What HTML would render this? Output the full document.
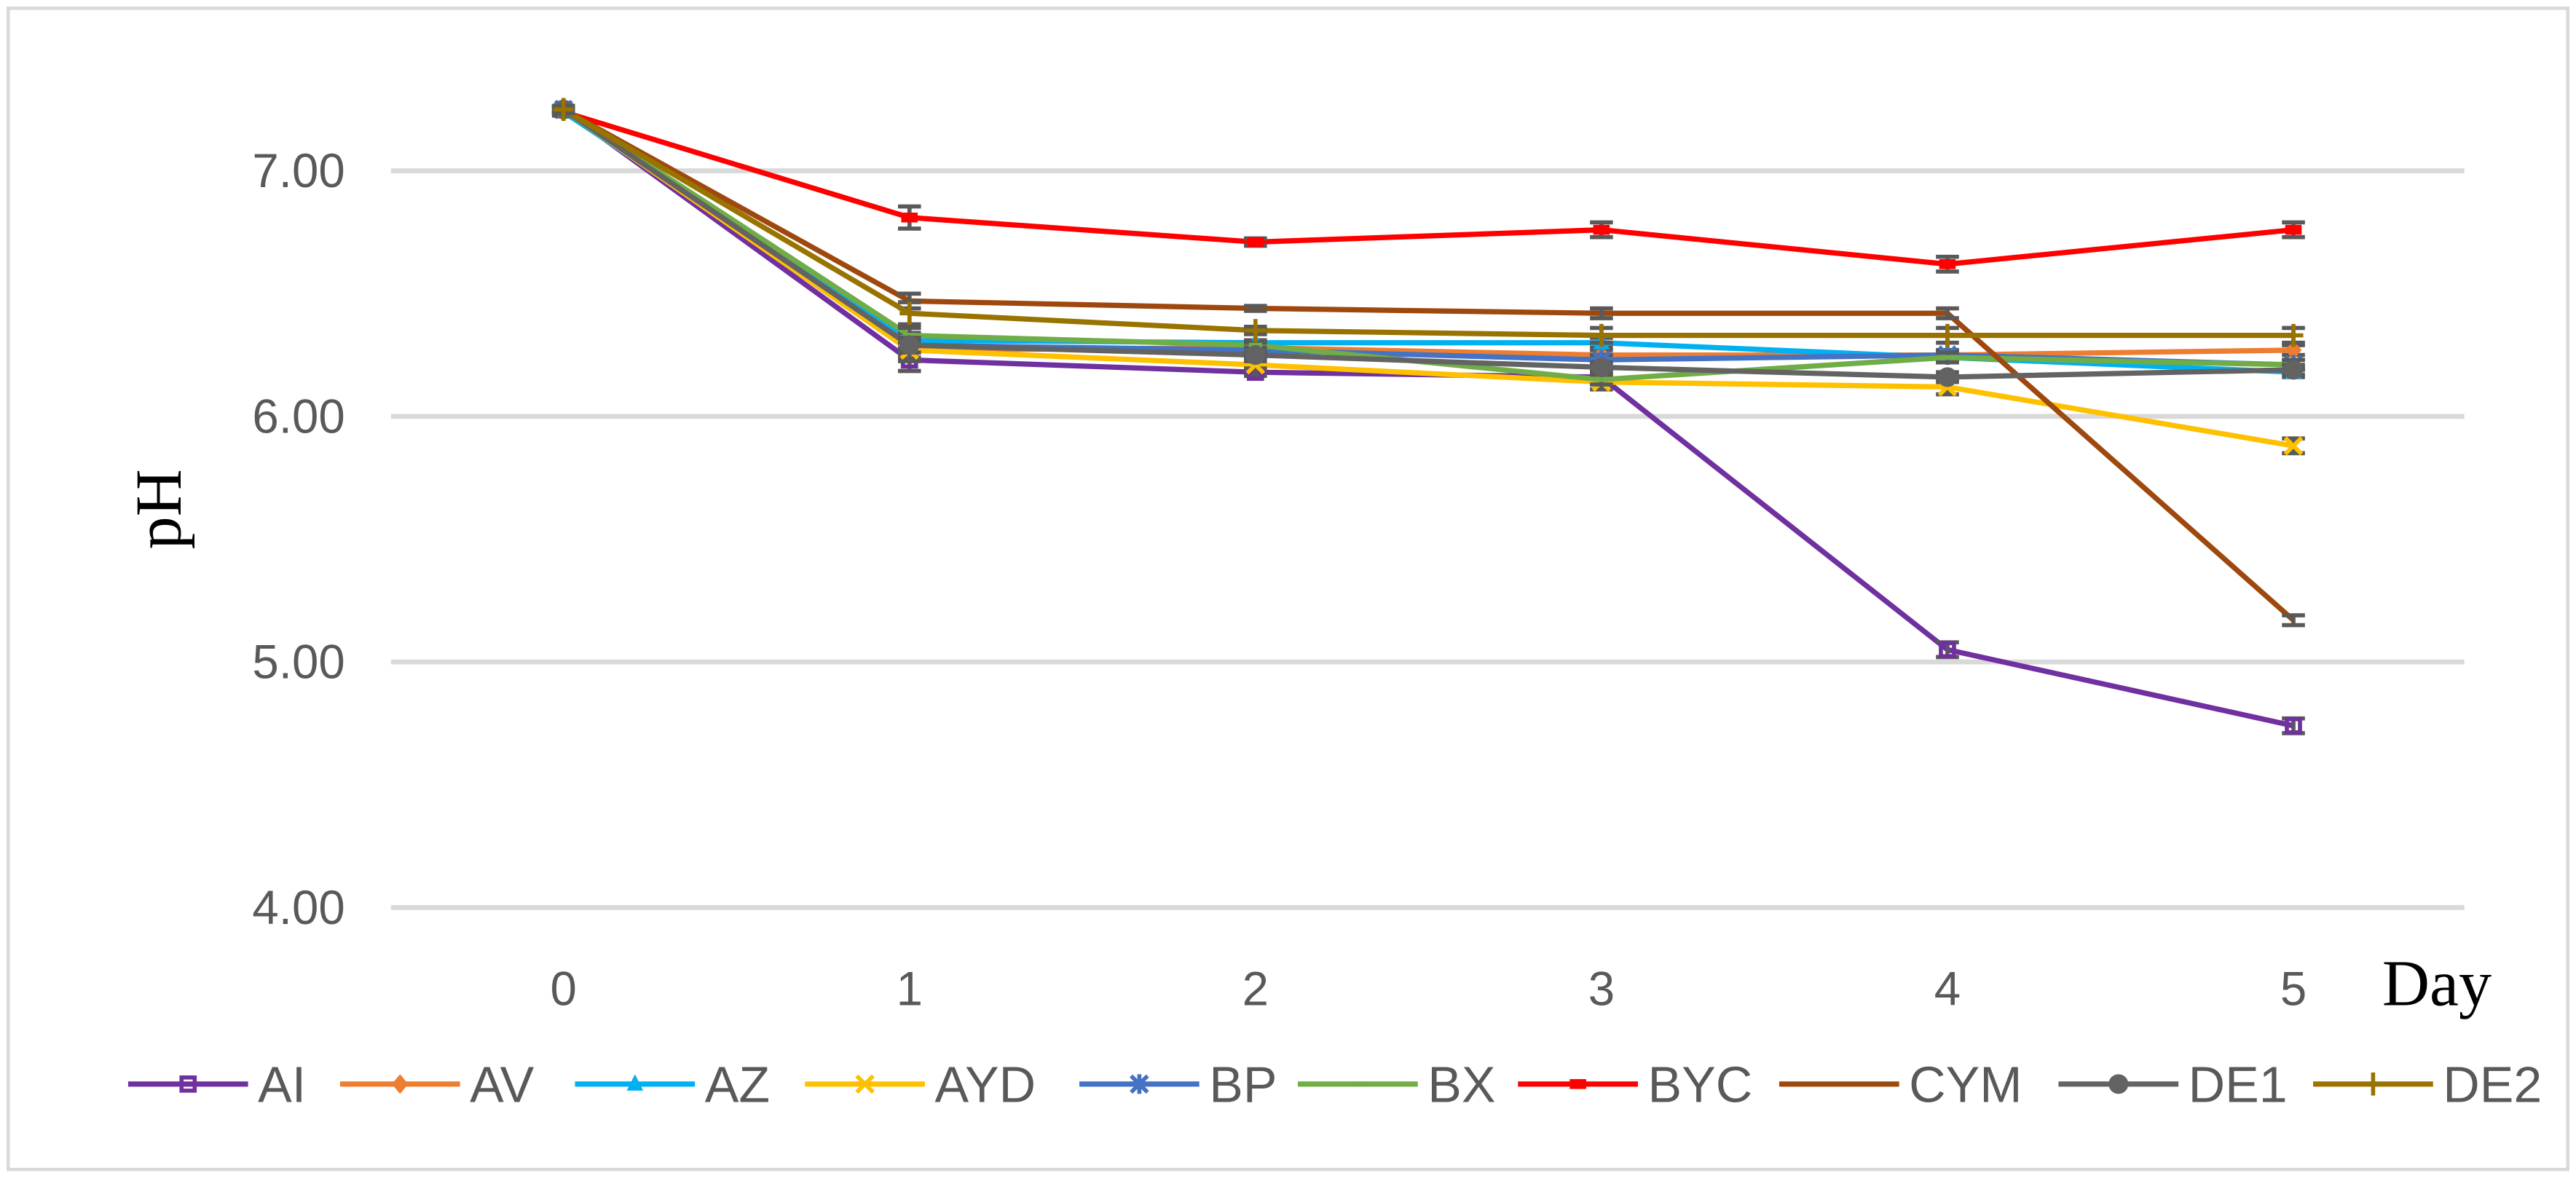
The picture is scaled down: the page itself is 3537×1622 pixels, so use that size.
<!DOCTYPE html>
<html><head><meta charset="utf-8"><style>
html,body{margin:0;padding:0;background:#fff;}
svg{display:block;}
</style></head><body>
<svg id="chart" width="3537" height="1622" viewBox="0 0 1568 719" xmlns="http://www.w3.org/2000/svg">
<rect x="5" y="5" width="1558" height="707" fill="#fff" stroke="#d9d9d9" stroke-width="2"/>
<g id="grid"></g>
<g id="ticks"></g>
<g id="series"></g>
<text transform="translate(110,310) rotate(-90)" text-anchor="middle" font-family="Liberation Serif, serif" font-size="40" fill="#000">pH</text>
<text x="1450" y="612" font-family="Liberation Serif, serif" font-size="40" fill="#000">Day</text>
<g id="legend"></g>
</svg>
<script>
const days = [0,1,2,3,4,5];
const yTicks = [4,5,6,7];
const yTickLabels = ["4.00","5.00","6.00","7.00"];
const names = ["AI","AV","AZ","AYD","BP","BX","BYC","CYM","DE1","DE2"];
const colors = ["#7030a0","#ed7d31","#00b0f0","#ffc000","#4472c4","#70ad47","#ff0000","#9e480e","#636363","#997300"];
const AI  = [7.25,6.23,6.18,6.16,5.05,4.74];
const AV  = [7.25,6.27,6.28,6.25,6.25,6.27];
const AZ  = [7.24,6.31,6.30,6.30,6.24,6.18];
const AYD = [7.25,6.27,6.21,6.14,6.12,5.88];
const BP  = [7.25,6.29,6.27,6.23,6.25,6.21];
const BX  = [7.25,6.33,6.29,6.15,6.24,6.21];
const BYC = [7.24,6.81,6.71,6.76,6.62,6.76];
const CYM = [7.25,6.47,6.44,6.42,6.42,5.17];
const DE1 = [7.25,6.29,6.25,6.20,6.16,6.19];
const DE2 = [7.25,6.42,6.35,6.33,6.33,6.33];
const errs = [0.01,0.03,0.01,0.02,0.02,0.02];
const seriesData = [AI,AV,AZ,AYD,BP,BX,BYC,CYM,DE1,DE2];

const NS="http://www.w3.org/2000/svg";
function X(d){return 343 + d*210.6;}
function Y(v){return 104 + (7-v)*149.5;}
function mk(tag,attrs,parent){const e=document.createElementNS(NS,tag);for(const k in attrs)e.setAttribute(k,attrs[k]);parent.appendChild(e);return e;}
const grid=document.getElementById('grid'), ticks=document.getElementById('ticks'), ser=document.getElementById('series'), leg=document.getElementById('legend');
const FONT="Liberation Sans Narrow, Liberation Sans, sans-serif";

yTicks.forEach((t,i)=>{
  const l=mk('line',{x1:238,x2:1500,y1:Y(t),y2:Y(t),stroke:'#d9d9d9','stroke-width':3},grid);
  
  
  const tx=mk('text',{x:210,y:Y(t)+10,'text-anchor':'end','font-family':FONT,'font-size':29,fill:'#595959'},ticks);
  tx.textContent=yTickLabels[i];
  
  
});
days.forEach(d=>{
  const tx=mk('text',{x:X(d),y:612,'text-anchor':'middle','font-family':FONT,'font-size':29,fill:'#595959'},ticks);
  tx.textContent=String(d);
  
  
});

function marker(i,x,y,g){
  const c=colors[i];
  let m;
  switch(i){
    case 0: m=mk('rect',{x:x-4,y:y-4,width:8,height:8,fill:'none',stroke:c,'stroke-width':2.5},g);break;
    case 1: m=mk('path',{d:`M${x} ${y-6}L${x+5} ${y}L${x} ${y+6}L${x-5} ${y}Z`,fill:c},g);break;
    case 2: m=mk('path',{d:`M${x} ${y-6}L${x+5} ${y+4}L${x-5} ${y+4}Z`,fill:c},g);break;
    case 3: m=mk('path',{d:`M${x-5} ${y-5}L${x+5} ${y+5}M${x+5} ${y-5}L${x-5} ${y+5}`,stroke:c,'stroke-width':2.5},g);break;
    case 4: m=mk('path',{d:`M${x-5} ${y-5}L${x+5} ${y+5}M${x+5} ${y-5}L${x-5} ${y+5}M${x} ${y-6}L${x} ${y+6}`,stroke:c,'stroke-width':2.5},g);break;
    case 5: m=mk('rect',{x:x-4,y:y-1.5,width:8,height:3,fill:c},g);break;
    case 6: m=mk('rect',{x:x-5,y:y-3,width:10,height:6,fill:c},g);break;
    case 7: m=null;break;
    case 8: m=mk('circle',{cx:x,cy:y,r:6,fill:c},g);break;
    case 9: m=mk('path',{d:`M${x-6} ${y}L${x+6} ${y}M${x} ${y-7}L${x} ${y+7}`,stroke:c,'stroke-width':2.5},g);break;
  }
  if(m){
    
    
  }
}

seriesData.forEach((vals,i)=>{
  const g=mk('g',{},ser);
  
  
  const pts=vals.map((v,j)=>X(days[j])+','+Y(v)).join(' ');
  const pl=mk('polyline',{points:pts,fill:'none',stroke:colors[i],'stroke-width':3.2,'stroke-linejoin':'round'},g);
  
  
  vals.forEach((v,j)=>{
    const x=X(days[j]), e=errs[j]*(i%3===0?1.5:1);
    const eb=mk('path',{d:`M${x} ${Y(v+e)}L${x} ${Y(v-e)}M${x-7} ${Y(v+e)}L${x+7} ${Y(v+e)}M${x-7} ${Y(v-e)}L${x+7} ${Y(v-e)}`,stroke:'#595959','stroke-width':2.5,fill:'none'},g);
    
    
    marker(i,x,Y(v),g);
  });
});

const legX=[78,207,350,490,657,790,924,1083,1253,1408];
names.forEach((n,i)=>{
  const g=mk('g',{},leg);
  
  
  const x0=legX[i];
  mk('line',{x1:x0,x2:x0+73,y1:660,y2:660,stroke:colors[i],'stroke-width':3.2},g);
  marker(i,x0+36.5,660,g);
  const t=mk('text',{x:x0+79,y:671,'font-family':FONT,'font-size':31,fill:'#595959'},g);
  t.textContent=n;
});
</script>
</body></html>
